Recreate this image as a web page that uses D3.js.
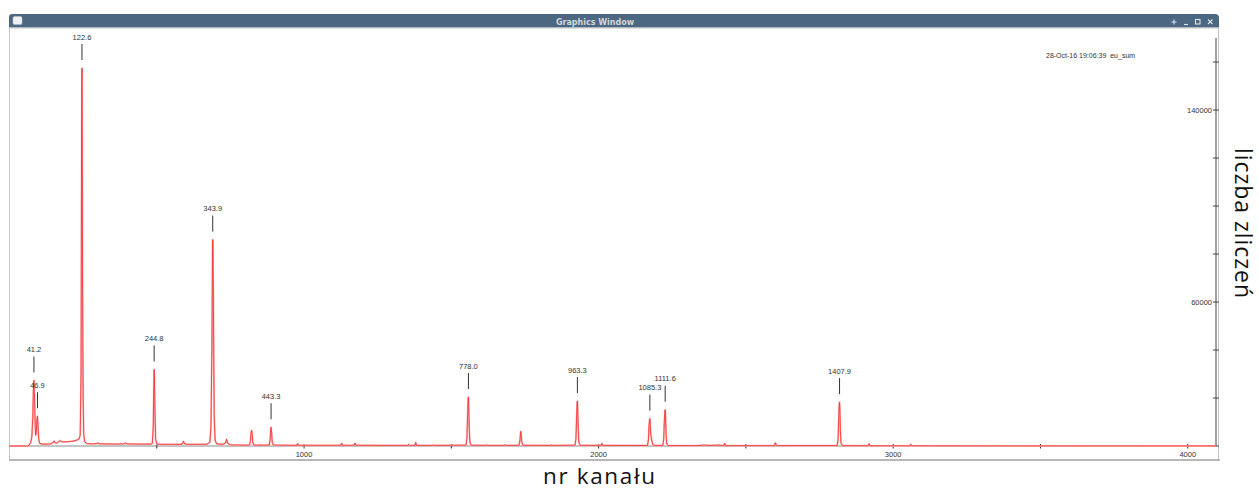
<!DOCTYPE html>
<html>
<head>
<meta charset="utf-8">
<script src="https://cdn.jsdelivr.net/npm/d3@7"></script>
<style>
  html, body { margin: 0; padding: 0; background: #fff; }
  svg { display: block; }
  .small { font-family: "Liberation Sans", Arial, sans-serif; font-size: 7.5px; fill: #333; }
</style>
</head>
<body>
<svg id="chart" width="1259" height="490"></svg>
<script>
// Eu-152 gamma spectrum ("eu_sum"): [channel, counts]
const spectrum = [
  [0, 0], [62, 0], [66, 300], [72, 1500], [76, 4000], [79, 12000], [81, 23000],
  [83, 27300], [85, 20000], [87, 9000], [89, 4500], [91, 6000], [93, 11000],
  [95, 12400], [97, 8000], [99, 3000], [102, 1200], [110, 800], [125, 800],
  [140, 900], [148, 1500], [151, 2100], [154, 1400], [160, 1200], [167, 1800],
  [172, 2300], [176, 1800], [185, 1700], [200, 1800], [215, 2000], [228, 2400],
  [236, 2900], [240, 4500], [243, 30000], [245, 136000], [246, 157500],
  [247, 130000], [248, 70000], [250, 20000], [252, 5000], [255, 1800],
  [262, 1000], [280, 900], [295, 1000], [300, 1300], [305, 900], [330, 850],
  [360, 800], [388, 900], [394, 1200], [400, 850], [440, 800], [480, 800],
  [485, 1100], [488, 8000], [490, 26000], [491, 31900], [492, 29000],
  [494, 14000], [496, 3000], [500, 800], [520, 700], [560, 700], [585, 700],
  [588, 1300], [591, 2000], [594, 1000], [600, 700], [640, 700], [670, 750],
  [680, 1500], [684, 8000], [687, 40000], [689, 75000], [690, 86000],
  [691, 80000], [693, 45000], [695, 12000], [698, 2500], [703, 900],
  [725, 700], [733, 1200], [737, 2800], [741, 1100], [750, 500], [780, 400],
  [790, 350], [815, 400], [818, 2000], [820, 5500], [822, 6500], [824, 5000],
  [826, 1500], [830, 400], [860, 350], [882, 400], [885, 3000], [887, 7000],
  [888, 7800], [890, 5500], [892, 1500], [896, 400], [950, 300], [975, 300],
  [978, 1000], [981, 300], [1050, 300], [1125, 300], [1128, 1100], [1131, 300],
  [1170, 300], [1173, 1250], [1176, 300], [1300, 250], [1352, 250], [1355, 700],
  [1358, 250], [1376, 250], [1379, 1500], [1382, 250], [1437, 250], [1440, 500],
  [1443, 250], [1550, 400], [1553, 3500], [1555, 12000], [1557, 19500],
  [1558, 20400], [1559, 17000], [1561, 7000], [1563, 1500], [1567, 350],
  [1617, 250], [1620, 500], [1623, 250], [1678, 250], [1681, 500], [1684, 250],
  [1730, 300], [1733, 2500], [1735, 5500], [1736, 6100], [1737, 5000],
  [1739, 1800], [1743, 300], [1838, 250], [1841, 500], [1844, 250], [1920, 350],
  [1923, 3000], [1925, 11000], [1927, 18000], [1928, 18700], [1929, 16000],
  [1931, 6500], [1933, 1400], [1937, 300], [2008, 250], [2011, 1100],
  [2014, 250], [2166, 200], [2169, 2500], [2171, 8000], [2173, 11000],
  [2174, 11400], [2175, 10000], [2177, 5000], [2180, 2500], [2184, 600],
  [2190, 200], [2218, 200], [2221, 3000], [2223, 10000], [2225, 14500],
  [2226, 15100], [2227, 13000], [2229, 5000], [2231, 1000], [2236, 200],
  [2337, 150], [2360, 400], [2380, 200], [2405, 400], [2425, 150], [2428, 1100],
  [2431, 150], [2597, 150], [2600, 1300], [2603, 400], [2606, 150], [2810, 200],
  [2813, 3000], [2815, 11000], [2817, 17500], [2818, 18300], [2819, 15500],
  [2821, 6000], [2823, 1200], [2827, 150], [2915, 100], [2918, 1000],
  [2921, 100], [3057, 80], [3060, 700], [3063, 80], [3300, 60], [4096, 40]
];

// Peak annotations: energy label (keV) and the channel of its photopeak
const peakLabels   = ["41.2", "46.9", "122.6", "244.8", "343.9", "443.3",
                      "778.0", "963.3", "1085.3", "1111.6", "1407.9"];
const peakChannels = [83, 95, 246, 491, 690, 888, 1558, 1928, 2174, 2226, 2818];

const xTicks = [500, 1000, 1500, 2000, 2500, 3000, 3500, 4000];
const xTickLabels = [1000, 2000, 3000, 4000];
const yTicks = [0, 20000, 40000, 60000, 80000, 100000, 120000, 140000, 160000];
const yTickLabels = [60000, 140000];

const windowTitle = "Graphics Window";
const stamp = "28-Oct-16 19:06:39  eu_sum";
const xTitle = "nr kanału";
const yTitle = "liczba zliczeń";

const svg = d3.select("#chart");

// ---- window frame ----
const win = { left: 9, right: 1219, top: 14, bar: 28, bottom: 460 };
svg.append("path")
  .attr("d", `M${win.left},${win.bar} V${win.top + 3} Q${win.left},${win.top} ${win.left + 3},${win.top}
              H${win.right - 4} Q${win.right},${win.top} ${win.right},${win.top + 4} V${win.bar} Z`)
  .attr("fill", "#4b6781");
svg.append("line").attr("x1", win.left).attr("x2", win.right)
  .attr("y1", win.bar - 0.5).attr("y2", win.bar - 0.5)
  .attr("stroke", "#9fb1c2").attr("stroke-width", 1);
svg.append("rect")
  .attr("x", win.left + 0.5).attr("y", win.bar)
  .attr("width", win.right - win.left - 1).attr("height", win.bottom - win.bar)
  .attr("fill", "#fff").attr("stroke", "#c4c4c4").attr("stroke-width", 1);
svg.append("line").attr("x1", win.left).attr("x2", win.right + 1)
  .attr("y1", win.bottom).attr("y2", win.bottom)
  .attr("stroke", "#a9a9a9").attr("stroke-width", 1.5);

// titlebar icon and buttons
svg.append("rect").attr("x", 13).attr("y", 16.5).attr("width", 9).attr("height", 8)
  .attr("rx", 1.5).attr("fill", "#eef1f4").attr("stroke", "#b8c4cf").attr("stroke-width", 0.6);
svg.append("text")
  .attr("x", 595).attr("y", 24.5)
  .attr("text-anchor", "middle")
  .style("font-family", "'DejaVu Sans', sans-serif").style("font-weight", "bold")
  .style("font-size", "8px").style("fill", "#cfd7de")
  .text(windowTitle);
const btn = svg.append("g").attr("stroke", "#dde4ea").attr("fill", "none").attr("stroke-width", 1.1);
btn.append("path").attr("d", "M1171.5,22 h5 M1174,19.5 v5");
btn.append("path").attr("d", "M1184,24.5 h4");
btn.append("rect").attr("x", 1195.5).attr("y", 19.5).attr("width", 4.5).attr("height", 4.5);
btn.append("path").attr("d", "M1208,19.5 l4.5,4.5 M1212.5,19.5 l-4.5,4.5");

// ---- scales ----
const x = d3.scaleLinear().domain([0, 4096]).range([9.5, 1216]);
const y = d3.scaleLinear().domain([0, 170000]).range([446, 38]);

// x axis along the zero line
const xAxis = svg.append("g").attr("transform", `translate(0,${y(0)})`);
xAxis.append("line").attr("x1", x(0)).attr("x2", x(4096))
  .attr("stroke", "#8a8a8a").attr("stroke-width", 1);
xAxis.selectAll(".xt").data(xTicks).join("line")
  .attr("x1", d => x(d)).attr("x2", d => x(d))
  .attr("y1", -2).attr("y2", 2.5)
  .attr("stroke", "#333").attr("stroke-width", 1);
xAxis.selectAll(".xl").data(xTickLabels).join("text")
  .attr("class", "small")
  .attr("x", d => x(d)).attr("y", 10.5)
  .attr("text-anchor", "middle")
  .text(d => d);

// y axis on the right
const yx = x(4096);
const yAxis = svg.append("g");
yAxis.append("line").attr("x1", yx).attr("x2", yx)
  .attr("y1", y(170000)).attr("y2", y(0))
  .attr("stroke", "#444").attr("stroke-width", 1);
yAxis.selectAll(".yt").data(yTicks).join("line")
  .attr("x1", yx - 3).attr("x2", yx + 3)
  .attr("y1", d => y(d)).attr("y2", d => y(d))
  .attr("stroke", "#444").attr("stroke-width", 1);
yAxis.selectAll(".yl").data(yTickLabels).join("text")
  .attr("class", "small")
  .attr("x", yx - 4).attr("y", d => y(d) + 2.6)
  .attr("text-anchor", "end")
  .text(d => d);

// ---- spectrum ----
const line = d3.line().x(d => x(d[0])).y(d => y(d[1]));
svg.append("path").datum(spectrum)
  .attr("d", line).attr("fill", "none")
  .attr("stroke", "#ffb4b4").attr("stroke-width", 1.8).attr("stroke-linejoin", "round");
svg.append("path").datum(spectrum)
  .attr("d", line).attr("fill", "none")
  .attr("stroke", "#f22222").attr("stroke-width", 0.75).attr("stroke-linejoin", "round");

// ---- peak markers ----
const peakTop = c => d3.max(spectrum.filter(d => Math.abs(d[0] - c) <= 3), d => d[1]);
const peaks = peakLabels.map((label, i) => ({ label, ch: peakChannels[i], top: peakTop(peakChannels[i]) }));
const mk = svg.append("g");
mk.selectAll("line").data(peaks).join("line")
  .attr("x1", d => x(d.ch)).attr("x2", d => x(d.ch))
  .attr("y1", d => y(d.top) - 24).attr("y2", d => y(d.top) - 8)
  .attr("stroke", "#333").attr("stroke-width", 1);
mk.selectAll("text").data(peaks).join("text")
  .attr("class", "small")
  .attr("x", d => x(d.ch)).attr("y", d => y(d.top) - 28.5)
  .attr("text-anchor", "middle")
  .text(d => d.label);

// timestamp / spectrum name
svg.append("text").attr("class", "small")
  .attr("x", 1046).attr("y", 57.5)
  .style("font-size", "7px").style("white-space", "pre")
  .text(stamp);

// ---- axis titles ----
svg.append("text")
  .attr("x", 599).attr("y", 483.5)
  .attr("text-anchor", "middle")
  .attr("textLength", 112).attr("lengthAdjust", "spacing")
  .style("font-family", "'Open Sans', sans-serif").style("font-size", "22.5px").style("fill", "#111")
  .text(xTitle);
svg.append("text")
  .attr("transform", "translate(1235,223) rotate(90)")
  .attr("text-anchor", "middle")
  .attr("textLength", 150).attr("lengthAdjust", "spacing")
  .style("font-family", "'Open Sans', sans-serif").style("font-size", "23px").style("fill", "#111")
  .text(yTitle);
</script>
</body>
</html>
